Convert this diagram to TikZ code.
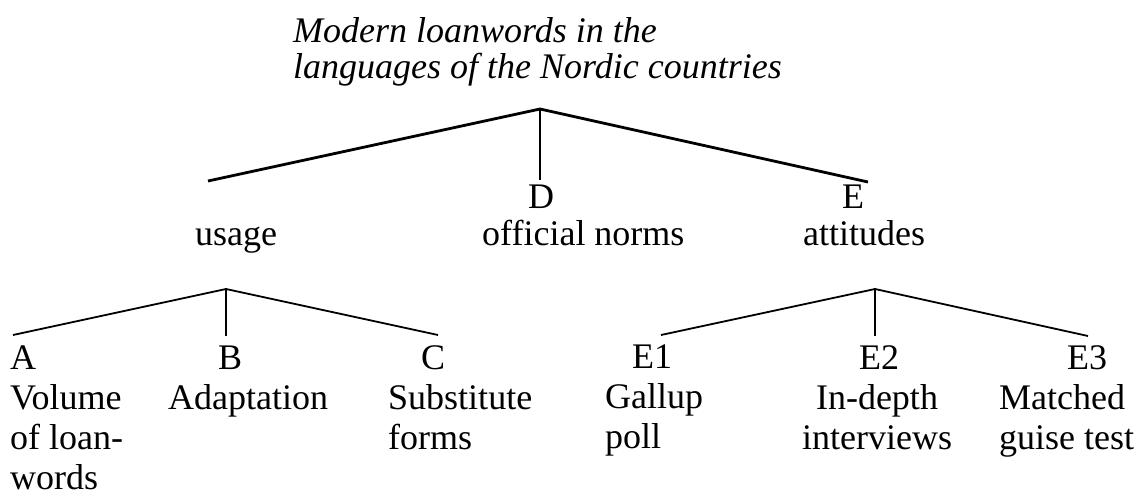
\documentclass[tikz,border=0pt]{standalone}
\usepackage{fontspec}
\setmainfont{Liberation Serif}
\newcommand\bodyfont{\fontsize{36}{40}\selectfont}
\newcommand\titlefont{\fontsize{36}{36}\selectfont\itshape}
\newcommand\stacklines[1]{\begin{tabular}[t]{@{}l@{}}#1\end{tabular}}
\newcommand\stackcenter[1]{\begin{tabular}[t]{@{}c@{}}#1\end{tabular}}
\begin{document}
\begin{tikzpicture}[x=1pt,y=-1pt,
  lbl/.style={anchor=base west,inner sep=0pt,font=\bodyfont},
  clbl/.style={anchor=base,inner sep=0pt,font=\bodyfont},
  branch/.style={line width=2.8pt},
  twig/.style={line width=1.8pt}]
\useasboundingbox (0,0) rectangle (1137,490);
% title
\node[lbl,font=\titlefont] (title) at (293,42) {\stacklines{Modern loanwords in the\\languages of the Nordic countries}};
% first level
\node[lbl] (usage) at (195,245) {usage};
\node[clbl] (D) at (541,208) {D};
\node[lbl] (Ddesc) at (482,245) {official norms};
\node[lbl] (E) at (842,208) {E};
\node[lbl] (Edesc) at (803,245) {attitudes};
% second level
\node[lbl] (A) at (10,369) {A};
\node[lbl] (Adesc) at (10,409) {\stacklines{Volume\\of loan-\\words}};
\node[lbl] (B) at (218,369) {B};
\node[lbl] (Bdesc) at (168,409) {Adaptation};
\node[lbl] (C) at (421,369) {C};
\node[lbl] (Cdesc) at (388,409) {\stacklines{Substitute\\forms}};
\node[lbl] (E1) at (632,368) {E1};
\node[lbl] (E1desc) at (605,408) {\stacklines{Gallup\\poll}};
\node[clbl] (E2) at (879,369) {E2};
\node[clbl] (E2desc) at (877,409) {\stackcenter{In-depth\\interviews}};
\node[lbl] (E3) at (1067,369) {E3};
\node[lbl] (E3desc) at (999,409) {\stacklines{Matched\\guise test}};
% tree coordinates
\coordinate (root) at (540,109);
\coordinate (rootL) at (208,181);
\coordinate (rootM) at (540,180);
\coordinate (rootR) at (868,182);
\coordinate (uTop) at (226,289);
\coordinate (uL) at (13,335);
\coordinate (uM) at (226,336);
\coordinate (uR) at (438,335);
\coordinate (eTop) at (875,289);
\coordinate (eL) at (661,335);
\coordinate (eM) at (875,336);
\coordinate (eR) at (1088,336);
% connectors
\draw[branch] (rootL) -- (root) -- (rootR);
\draw[branch] (root) -- (rootM);
\draw[twig] (uL) -- (uTop) -- (uR);
\draw[twig] (uTop) -- (uM);
\draw[twig] (eL) -- (eTop) -- (eR);
\draw[twig] (eTop) -- (eM);
\end{tikzpicture}
\end{document}
